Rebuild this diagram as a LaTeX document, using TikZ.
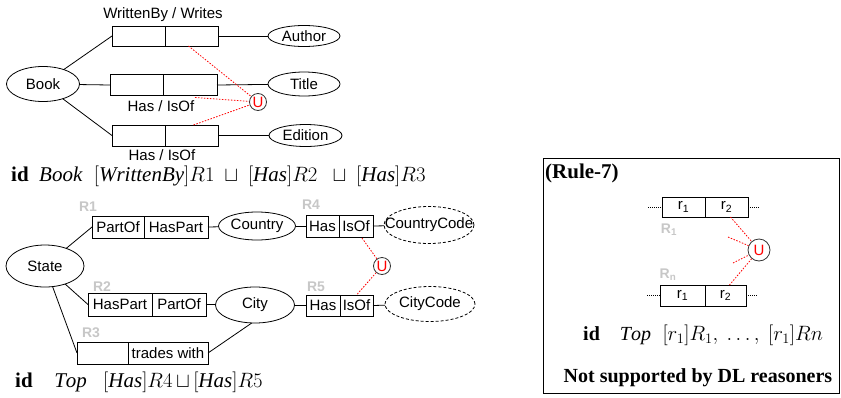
\documentclass[tikz,border=0pt]{standalone}
\usepackage{fontspec}
\setmainfont{Liberation Serif}
\setsansfont{Liberation Sans}
\usepackage{tikz}
\usetikzlibrary{positioning}
\usetikzlibrary{shapes.geometric}
\usetikzlibrary{calc}
\newcommand{\lblfont}{\sffamily\fontsize{15}{17}\selectfont}
\newcommand{\rfont}{\sffamily\bfseries\fontsize{14}{16}\selectfont}
\newcommand{\fmfont}{\fontsize{21}{23}\selectfont}
\newcommand{\etxt}[1]{\makebox[0pt]{#1}}
\tikzstyle{every node}+=[inner sep=0pt]
\tikzstyle{cell} = [rectangle, draw, line width=0.8pt, outer sep=0pt, minimum height=21pt, font=\lblfont]
\tikzstyle{concept} = [ellipse, draw, line width=0.8pt, outer sep=0pt, font=\lblfont]
\tikzstyle{dconcept} = [concept, dash pattern=on 3pt off 2pt]
\tikzstyle{union} = [circle, draw=black!80, line width=0.8pt, text=red, minimum size=17pt, font=\lblfont]
\tikzstyle{line} = [draw, line width=0.8pt]
\tikzstyle{uline} = [draw, red, line width=0.8pt, dash pattern=on 1.5pt off 1.5pt]
\tikzstyle{stub} = [draw, line width=0.8pt, dash pattern=on 1pt off 1pt]
\tikzstyle{rname} = [font=\rfont, text=black!22]
\tikzstyle{formula} = [font=\fmfont]
\begin{document}
\begin{tikzpicture}[x=1pt, y=-1pt]
            \useasboundingbox (0,0) rectangle (841,397);
            % Book roles
            \node [concept, minimum width=73pt, minimum height=35pt] (book) at (43,84) {Book};
            \node [cell, minimum width=53pt, minimum height=20pt] (wbL) at (138.5,36) {};
            \node [cell, minimum width=53pt, minimum height=20pt, right=0pt of wbL] (wbR) {};
            \node [font=\lblfont] (wblbl) at (163,15) {WrittenBy / Writes};
            \node [cell, minimum width=53pt] (hsL) at (136.5,85) {};
            \node [cell, minimum width=54pt, right=0pt of hsL] (hsR) {};
            \node [font=\lblfont] (hslbl) at (161,106) {Has / IsOf};
            \node [cell, minimum width=53pt] (edL) at (138.5,135.5) {};
            \node [cell, minimum width=53pt, right=0pt of edL] (edR) {};
            \node [font=\lblfont] (edlbl) at (162,155) {Has / IsOf};
            \node [concept, minimum width=72pt, minimum height=21pt] (author) at (304,36) {Author};
            \node [concept, minimum width=72pt, minimum height=24pt] (title) at (304,84) {Title};
            \node [concept, minimum width=73pt, minimum height=22pt] (edition) at (305.5,135.5) {Edition};
            \node [union] (u1) at (258,102) {U};
            \node [formula, anchor=west] (f1) at (11,176) {\textbf{id}\enspace $\mathit{Book}\;\;[\mathit{WrittenBy}]R1\ \sqcup\ [\mathit{Has}]R2\ \ \sqcup\ [\mathit{Has}]R3$};
            \path [line] (book) -- (wbL.west);
            \path [line] (book) -- (hsL.west);
            \path [line] (book) -- (edL.west);
            \path [line] (wbR.east) -- (author);
            \path [line] (hsR.east) -- (title);
            \path [line] (edR.east) -- (edition);
            \path [uline] ($(wbR.south)+(-3,0)$) -- (u1);
            \path [uline] ($(hsR.south)+(5,2)$) -- (u1);
            \path [uline] ($(edR.north)+(2,0)$) -- (u1);
            % State roles
            \node [concept, minimum width=78pt, minimum height=42pt] (state) at (45,266) {State};
            \node [rname] (rn1) at (88,207) {R1};
            \node [cell, minimum width=52pt, minimum height=22pt] (poL) at (118,227) {PartOf};
            \node [cell, minimum width=64pt, minimum height=22pt, right=0pt of poL] (poR) {HasPart};
            \node [concept, minimum width=77pt, minimum height=28pt] (country) at (257,226) {Country};
            \node [rname] (rn4) at (311,205) {R4};
            \node [cell, minimum width=33pt, minimum height=22pt] (r4L) at (322.5,226) {Has};
            \node [cell, minimum width=34pt, minimum height=22pt, right=0pt of r4L] (r4R) {IsOf};
            \node [dconcept, minimum width=90pt, minimum height=37pt] (ccode) at (429,225) {\etxt{CountryCode}};
            \node [union] (u2) at (382,266) {U};
            \node [rname] (rn2) at (102,287) {R2};
            \node [cell, minimum width=64pt, minimum height=23pt] (hpL) at (120,304.5) {HasPart};
            \node [cell, minimum width=54pt, minimum height=23pt, right=0pt of hpL] (hpR) {PartOf};
            \node [concept, minimum width=79pt, minimum height=36pt] (city) at (255,305) {City};
            \node [rname] (rn5) at (316,287) {R5};
            \node [cell, minimum width=34pt] (r5L) at (323,305.5) {Has};
            \node [cell, minimum width=33pt, right=0pt of r5L] (r5R) {IsOf};
            \node [dconcept, minimum width=90pt, minimum height=35pt] (cicode) at (430,304) {\etxt{CityCode}};
            \node [rname] (rn3) at (91,333) {R3};
            \node [cell, minimum width=51pt, minimum height=22pt] (twL) at (102.5,353) {};
            \node [cell, minimum width=80pt, minimum height=22pt, right=0pt of twL] (twR) {trades with};
            \node [formula, anchor=west] (f2) at (15,382) {\textbf{id}\enspace\; $\mathit{Top}\enspace\;[\mathit{Has}]R4\,{\sqcup}\,[\mathit{Has}]R5$};
            \path [line] (state) -- (poL.west);
            \path [line] (state) -- (hpL.west);
            \path [line] (state) -- (twL.west);
            \path [line] (poR.east) -- (country);
            \path [line] (country) -- (r4L.west);
            \path [line] (r4R.east) -- (ccode);
            \path [line] (hpR.east) -- (city);
            \path [line] (city) -- (r5L.west);
            \path [line] (r5R.east) -- (cicode);
            \path [line] (twR.east) -- (city.-100);
            \path [uline] ($(r4R.south)+(6,1)$) -- (u2);
            \path [uline] (u2) -- (r5R.north);
            % Rule-7
            \node [draw, line width=0.8pt, minimum width=296pt, minimum height=235pt] (rule) at (691,275.5) {};
            \node [font=\bfseries\fontsize{21}{23}\selectfont, anchor=west] (rtitle) at (545,173) {(Rule-7)};
            \node [cell, minimum width=43pt, minimum height=20pt] (t1L) at (683.5,207) {r\textsubscript{1}};
            \node [cell, minimum width=43pt, minimum height=20pt, right=0pt of t1L] (t1R) {r\textsubscript{2}};
            \node [rname] (rr1) at (669,230) {R\textsubscript{1}};
            \node [rname] (rrn) at (668,275) {R\textsubscript{n}};
            \node [cell, minimum width=45pt] (b1L) at (682.5,295.5) {r\textsubscript{1}};
            \node [cell, minimum width=41pt, right=0pt of b1L] (b1R) {r\textsubscript{2}};
            \node [union, minimum size=22pt] (u3) at (759,250) {U};
            \coordinate (sl1) at (648,207);
            \coordinate (sr1) at (760,207);
            \coordinate (sl2) at (647,295.5);
            \coordinate (sr2) at (758,295.5);
            \coordinate (ua) at (728,237);
            \coordinate (ub) at (733,263);
            \node [formula, font=\fontsize{20}{22}\selectfont, anchor=west] (f3) at (583,335) {\textbf{id}\quad $\mathit{Top}\;\;[r_1]R_1,\ \ldots,\ [r_1]Rn$};
            \node [font=\bfseries\fontsize{20}{22}\selectfont] (note) at (698,378) {Not supported by DL reasoners};
            \path [stub] (sl1) -- (t1L.west);
            \path [stub] (t1R.east) -- (sr1);
            \path [stub] (sl2) -- (b1L.west);
            \path [stub] (b1R.east) -- (sr2);
            \path [uline] ($(t1R.south)+(4,0)$) -- (u3);
            \path [uline] (ua) -- (u3);
            \path [uline] (ub) -- (u3);
            \path [uline] (u3) -- ($(b1R.north)+(4,0)$);
          \end{tikzpicture}
\end{document}
